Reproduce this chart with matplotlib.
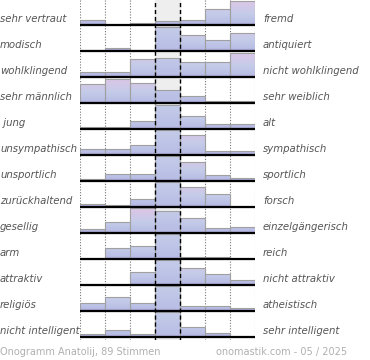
import matplotlib
matplotlib.use("Agg")
import matplotlib.pyplot as plt
from matplotlib.colors import LinearSegmentedColormap
from matplotlib.patches import Rectangle
import matplotlib.transforms as mtransforms
import numpy as np

# labels, top to bottom
left_labels = ["sehr vertraut", "modisch", "wohlklingend", "sehr männlich", " jung",
               "unsympathisch", "unsportlich", "zurückhaltend", "gesellig", "arm",
               "attraktiv", "religiös", "nicht intelligent"]
right_labels = ["fremd", "antiquiert", "nicht wohlklingend", "sehr weiblich", "alt",
                "sympathisch", "sportlich", "forsch", "einzelgängerisch", "reich",
                "nicht attraktiv", "atheistisch", "sehr intelligent"]

# bar heights per row, 7 bins, in % of the row maximum
vertraut = [20, 0, 10, 15, 22, 67, 100]
modisch = [4, 11, 4, 100, 65, 47, 74]
wohlklingend = [22, 22, 74, 78, 63, 63, 100]
maennlich = [77, 100, 82, 53, 30, 8, 8]
jung = [10, 6, 32, 100, 53, 22, 22]
unsympathisch = [24, 26, 39, 100, 80, 14, 14]
unsportlich = [8, 29, 29, 100, 76, 24, 10]
zurueckhaltend = [12, 7, 33, 100, 83, 53, 0]
gesellig = [17, 44, 100, 90, 60, 18, 24]
arm = [0, 44, 53, 100, 9, 9, 0]
attraktiv = [0, 0, 54, 100, 67, 43, 19]
religioes = [30, 57, 30, 100, 19, 19, 10]
intelligent = [11, 26, 11, 100, 39, 17, 0]

rows = [vertraut, modisch, wohlklingend, maennlich, jung, unsympathisch, unsportlich,
        zurueckhaltend, gesellig, arm, attraktiv, religioes, intelligent]

footer_left = "Onogramm Anatolij, 89 Stimmen"
footer_right = "onomastik.com - 05 / 2025"

n = len(rows)
HMAX = 0.94

cm_outer = LinearSegmentedColormap.from_list(
    "outer", [(0, "#a6a2d4"), (0.1, "#b9bee5"), (0.45, "#c4cce9"), (1, "#dec6e6")])
cm_mid = LinearSegmentedColormap.from_list(
    "mid", [(0, "#a6a2d4"), (0.1, "#b9bee5"), (1, "#c4cce9")])
grad = np.linspace(0, 1, 64).reshape(-1, 1)

fig = plt.figure(figsize=(3.7, 3.6), dpi=100)
ax = fig.add_axes([80 / 370, 20 / 360, 175 / 370, 340 / 360])
ax.set_axis_off()

# middle column background
ax.axvspan(3, 4, color="#eeeeee", zorder=0)
for xv in [0, 1, 2, 5, 6, 7]:
    ax.axvline(xv, color="#777777", lw=0.8, ls=(0, (1, 1.5)), zorder=1)

for i, vals in enumerate(rows):
    k = n - 1 - i
    for j, v in enumerate(vals):
        if v <= 0:
            continue
        h = v / 100 * HMAX
        im = ax.imshow(grad, extent=[j, j + 1, k, k + HMAX], origin="lower",
                       aspect="auto", cmap=cm_mid if j == 3 else cm_outer, zorder=2)
        clip = Rectangle((j, k), 1, h, transform=ax.transData)
        im.set_clip_path(clip)
    hs = [v / 100 * HMAX for v in vals]
    ax.bar(np.arange(7), hs, width=1, bottom=k, align="edge", facecolor="none",
           edgecolor="#a0a0a0", lw=0.8, zorder=3)
    ax.plot([0, 7], [k, k], color="black", lw=1.6, zorder=4, solid_capstyle="butt")

for xv in [3, 4]:
    ax.axvline(xv, color="black", lw=1.0, ls=(0, (3, 2)), zorder=5)

ax.set_xlim(0, 7)
ax.set_ylim(-0.127, 12.965)

trans_l = mtransforms.blended_transform_factory(fig.transFigure, ax.transData)
for i in range(n):
    k = n - 1 - i
    ax.text(0.0, k + 0.22, left_labels[i], transform=trans_l, ha="left", va="center",
            fontsize=7.3, style="italic", color="#555555")
    ax.text(263 / 370, k + 0.22, right_labels[i], transform=trans_l, ha="left",
            va="center", fontsize=7.3, style="italic", color="#555555")

fig.text(0.0, 1 - 352 / 360, footer_left, ha="left", va="center", fontsize=7,
         color="#b0b0b0")
fig.text(347 / 370, 1 - 352 / 360, footer_right, ha="right", va="center", fontsize=7,
         color="#b0b0b0")

fig.savefig("out.png", dpi=100)
